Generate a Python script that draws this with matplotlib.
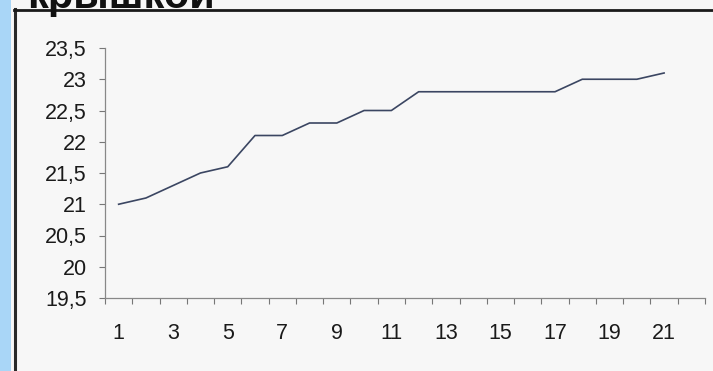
import numpy as np
import matplotlib.pyplot as plt
from matplotlib.patches import Rectangle
from matplotlib.lines import Line2D

# data
days = list(range(1, 22))
values = [21.0, 21.1, 21.3, 21.5, 21.6, 22.1, 22.1, 22.3, 22.3, 22.5, 22.5,
          22.8, 22.8, 22.8, 22.8, 22.8, 22.8, 23.0, 23.0, 23.0, 23.1]
y_ticks = [19.5, 20, 20.5, 21, 21.5, 22, 22.5, 23, 23.5]
y_labels = ["19,5", "20", "20,5", "21", "21,5", "22", "22,5", "23", "23,5"]
x_labels = [str(d) for d in days[::2]]
title_text = "крышкой"

W, H = 713, 371
plt.rcParams["font.family"] = ["Liberation Sans", "DejaVu Sans"]

fig = plt.figure(figsize=(W / 100, H / 100), dpi=100)
fig.patch.set_facecolor("#f7f7f7")

# blue strip on the left
fig.patches.append(Rectangle((0, 0), 11 / W, 1, transform=fig.transFigure,
                             facecolor="#a9d6f7", edgecolor="none", zorder=0))

# frame of the scanned picture
fig.add_artist(Line2D([14.5 / W, 14.5 / W], [0, 1 - 9 / H], color="#2a2a2a",
                      lw=2.2, transform=fig.transFigure))
fig.add_artist(Line2D([13.5 / W, 1], [1 - 9.5 / H, 1 - 9.5 / H], color="#1a1a1a",
                      lw=2.0, transform=fig.transFigure))

# title, cut off at the top
fig.text(27 / W, 1 - 8 / H, title_text, fontsize=30, fontweight="bold",
         color="#111111", ha="left", va="baseline")

ax = fig.add_axes([105 / W, 1 - 298 / H, 600 / W, 250 / H])
ax.set_facecolor("#f7f7f7")
ax.plot(days, values, color="#3b4662", lw=1.2)

ax.set_xlim(0.5, 22.5)
ax.set_ylim(19.5, 23.5)

ax.set_yticks(y_ticks)
ax.set_yticklabels(y_labels)
ax.tick_params(axis="y", length=4, width=0.8, color="#777777", pad=9,
               labelsize=15.5, labelcolor="#1a1a1a")

# tick marks between categories, labels on odd categories
ax.set_xticks(np.arange(0.5, 23, 1))
ax.set_xticklabels([])
ax.tick_params(axis="x", which="major", length=4, width=0.8, color="#777777")
ax.set_xticks(days[::2], minor=True)
ax.set_xticklabels(x_labels, minor=True)
ax.tick_params(axis="x", which="minor", length=0, pad=18, labelsize=15.5,
               labelcolor="#1a1a1a")

for side in ["top", "right"]:
    ax.spines[side].set_visible(False)
for side in ["left", "bottom"]:
    ax.spines[side].set_color("#888888")
    ax.spines[side].set_linewidth(0.9)

fig.savefig("out.png", dpi=100, facecolor=fig.get_facecolor())
